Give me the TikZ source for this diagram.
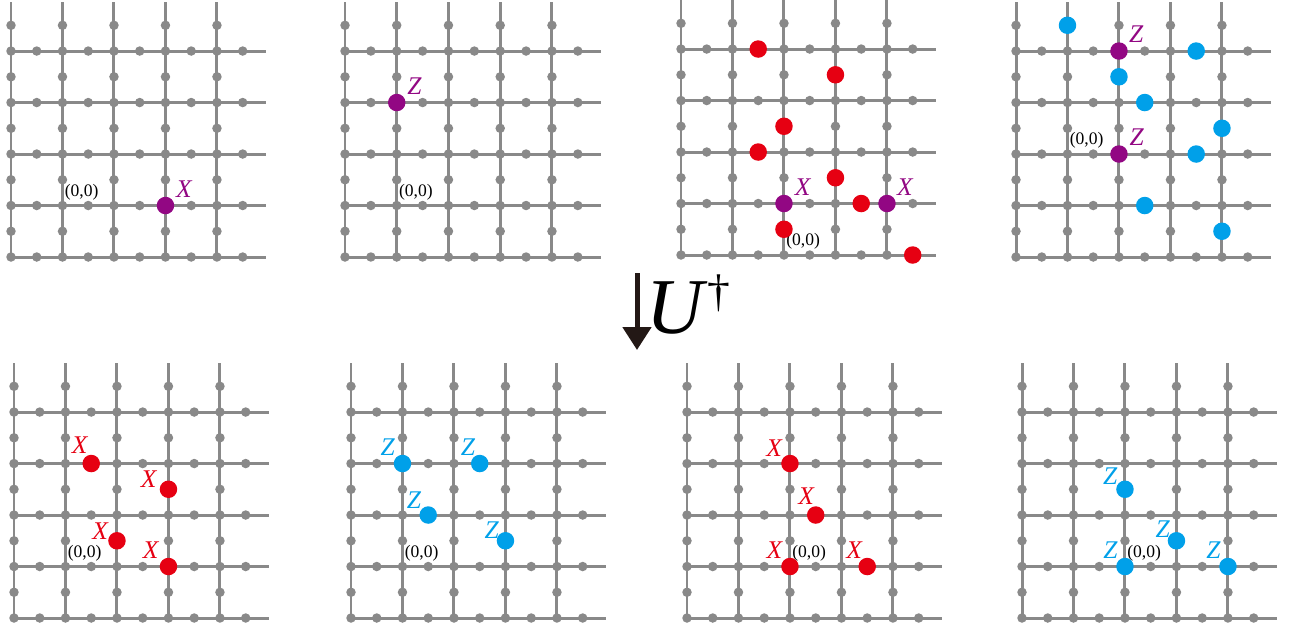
\documentclass[tikz,border=0pt]{standalone}
\usepackage{fontspec}
\setmainfont{Liberation Serif}
\usepackage{tikz}
\usetikzlibrary{arrows.meta}

\definecolor{latgray}{RGB}{137,137,137}
\definecolor{oppurple}{RGB}{146,7,131}
\definecolor{opred}{RGB}{230,0,18}
\definecolor{opblue}{RGB}{0,160,233}
\definecolor{arrowblack}{RGB}{35,24,21}

\tikzset{
  bond/.style={latgray,line width=1.7pt},
  site/.style={circle,fill=latgray,inner sep=0pt,minimum size=0.19cm},
  qbit/.style={circle,fill=#1,inner sep=0pt,minimum size=0.35cm},
  oplab/.style={text=#1,font=\fontsize{14.5}{16}\selectfont\itshape,anchor=center,inner sep=0pt},
  origin/.style={font=\fontsize{10}{12}\selectfont,anchor=south west,inner sep=0pt,xshift=0.04cm,yshift=0.1cm},
}

% square lattice, sites on vertices and bond midpoints
\newcommand{\drawlattice}{%
  \foreach \k in {0,...,4}{
    \draw[bond] (0,\k)--(4.95,\k);
    \draw[bond] (\k,0)--(\k,4.95);
  }
  \foreach \i in {0,...,4}{\foreach \j in {0,...,4}{
    \node[site] (v\i\j) at (\i,\j) {};
    \node[site] (h\i\j) at (\i+0.5,\j) {};
    \node[site] (u\i\j) at (\i,\j+0.5) {};
  }}%
}

\begin{document}
\begin{tikzpicture}[x=0.02cm,y=-0.02cm]
\useasboundingbox (0,0) rectangle (1289,633);

% top row
\begin{scope}[shift={(11,257)},x=1.03cm,y=1.03cm,name prefix=pa-]
\drawlattice
\node[origin] (o) at (1,1) {(0,0)};
\node[qbit=oppurple,label={[oplab=oppurple,label distance=0.315cm]42:X}] (x1) at (3,1) {};
\end{scope}

\begin{scope}[shift={(345,257)},x=1.035cm,y=1.03cm,name prefix=pb-]
\drawlattice
\node[origin] (o) at (1,1) {(0,0)};
\node[qbit=oppurple,label={[oplab=oppurple,label distance=0.3cm]43:Z}] (z1) at (1,3) {};
\end{scope}

\begin{scope}[shift={(681,255)},x=1.03cm,y=1.03cm,name prefix=pc-]
\drawlattice
\node[origin] (o) at (2,0) {(0,0)};
\foreach \x/\y [count=\n] in {1.5/4,3/3.5,2/2.5,1.5/2,3/1.5,3.5/1,2/0.5,4.5/0}
  \node[qbit=opred] (r\n) at (\x,\y) {};
\node[qbit=oppurple,label={[oplab=oppurple,label distance=0.315cm]41:X}] (x1) at (2,1) {};
\node[qbit=oppurple,label={[oplab=oppurple,label distance=0.3cm]42:X}] (x2) at (4,1) {};
\end{scope}

\begin{scope}[shift={(1016,257)},x=1.03cm,y=1.03cm,name prefix=pd-]
\drawlattice
\node[origin] (o) at (1,2) {(0,0)};
\foreach \x/\y [count=\n] in {1/4.5,3.5/4,2/3.5,2.5/3,4/2.5,3.5/2,2.5/1,4/0.5}
  \node[qbit=opblue] (b\n) at (\x,\y) {};
\node[qbit=oppurple,label={[oplab=oppurple,label distance=0.3cm]44:Z}] (z1) at (2,4) {};
\node[qbit=oppurple,label={[oplab=oppurple,label distance=0.3cm]43:Z}] (z2) at (2,2) {};
\end{scope}

% the map
\coordinate (arrtop) at (637,273);
\coordinate (arrtip) at (637,350);
\draw[arrowblack,line width=0.1cm,-{Triangle[width=0.56cm,length=0.46cm]}] (arrtop)--(arrtip);
\node[anchor=base west,inner sep=0pt,font=\fontsize{45}{48}\selectfont] (udag) at (646,333)
  {\textit{U}\raisebox{15pt}{\fontsize{26}{28}\selectfont †}};

% bottom row
\begin{scope}[shift={(14,618)},x=1.03cm,y=1.03cm,name prefix=pe-]
\drawlattice
\node[origin] (o) at (1,1) {(0,0)};
\foreach \x/\y/\a/\d [count=\n] in {1.5/3/123/0.245,3/2.5/154/0.26,2/1.5/149/0.21,3/1/138/0.3}
  \node[qbit=opred,label={[oplab=opred,label distance=\d cm]\a:X}] (x\n) at (\x,\y) {};
\end{scope}

\begin{scope}[shift={(351,618)},x=1.03cm,y=1.03cm,name prefix=pf-]
\drawlattice
\node[origin] (o) at (1,1) {(0,0)};
\foreach \x/\y/\a/\d [count=\n] in {1/3/131/0.265,2.5/3/125/0.225,1.5/2/133/0.235,3/1.5/141/0.17}
  \node[qbit=opblue,label={[oplab=opblue,label distance=\d cm]\a:Z}] (z\n) at (\x,\y) {};
\end{scope}

\begin{scope}[shift={(687,618)},x=1.03cm,y=1.03cm,name prefix=pg-]
\drawlattice
\node[origin] (o) at (2,1) {(0,0)};
\foreach \x/\y/\a/\d [count=\n] in {2/3/135/0.265,2.5/2/117/0.24,2/1/134/0.27,3.5/1/129/0.235}
  \node[qbit=opred,label={[oplab=opred,label distance=\d cm]\a:X}] (x\n) at (\x,\y) {};
\end{scope}

\begin{scope}[shift={(1022,618)},x=1.03cm,y=1.03cm,name prefix=ph-]
\drawlattice
\node[origin] (o) at (2,1) {(0,0)};
\foreach \x/\y/\a/\d [count=\n] in {2/2.5/138/0.215,3/1.5/140/0.18,2/1/132/0.255,4/1/132/0.255}
  \node[qbit=opblue,label={[oplab=opblue,label distance=\d cm]\a:Z}] (z\n) at (\x,\y) {};
\end{scope}
\end{tikzpicture}
\end{document}
